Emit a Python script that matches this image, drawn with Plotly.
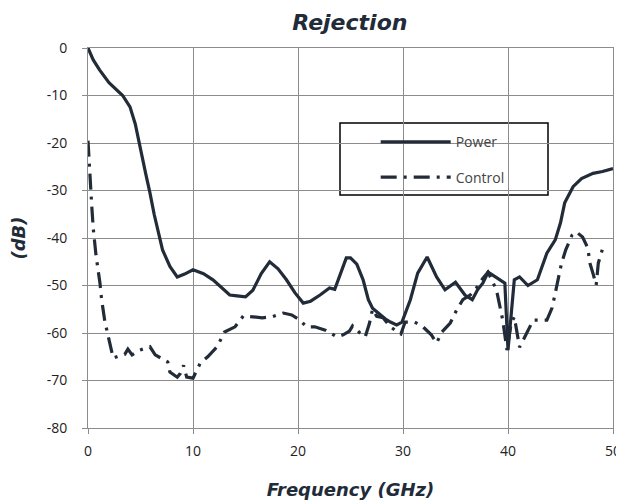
import plotly.graph_objects as go

power_x = [0, 0.5, 1.1, 2.0, 3.3, 4.0, 4.5, 5.0, 5.5, 5.9, 6.3, 7.1, 7.8, 8.5, 9.2, 10.0,
           11.0, 11.9, 12.8, 13.5, 14.2, 15.0, 15.7, 16.5, 17.3, 18.1, 18.9, 19.7, 20.5,
           21.2, 22.1, 23.0, 23.5, 23.9, 24.6, 25.0, 25.6, 26.2, 26.7, 27.1, 27.5, 27.8,
           28.3, 28.8, 29.4, 29.9, 30.7, 31.4, 32.3, 33.2, 34.0, 35.0, 35.9, 36.6, 37.1,
           37.6, 38.1, 38.8, 39.7, 40.0, 40.3, 40.6, 41.1, 41.9, 42.8, 43.7, 44.5, 45.0,
           45.4, 46.2, 47.0, 48.1, 49.0, 50.0]
power_y = [0, -2.5, -4.6, -7.3, -10, -12.4, -16, -21.5, -26.5, -30.5, -35, -42.5, -46, -48.2,
           -47.6, -46.7, -47.5, -48.8, -50.5, -52, -52.2, -52.4, -51, -47.5, -45, -46.5,
           -48.8, -51.5, -53.7, -53.3, -52, -50.5, -50.8, -48.5, -44.2, -44.2, -45.5, -48.8,
           -53, -54.8, -55.5, -56.2, -57, -57.7, -58.3, -57.7, -53, -47.4, -44, -48.2, -50.9,
           -49.3, -52, -53, -50.9, -49.5, -47.2, -48.2, -49.5, -63.6, -55.2, -48.8, -48.2,
           -50, -48.8, -43.2, -40.4, -36.8, -32.6, -29.2, -27.5, -26.4, -26, -25.4]

control_x = [0, 0.1, 0.2, 0.35, 0.5, 0.76, 1.14, 1.3, 1.6, 2.1, 2.4, 3.0, 3.5, 3.8, 4.2, 4.95,
             5.9, 6.4, 6.9, 7.6, 7.8, 8.5, 8.8, 9.1, 9.4, 10.0, 10.7, 11.4, 12.3, 13.0, 14.0,
             14.8, 15.7, 16.6, 17.5, 18.6, 19.4, 20.2, 20.8, 21.6, 22.6, 23.7, 24.3, 24.9,
             25.2, 25.9, 26.4, 26.8, 27.1, 27.5, 28.1, 28.8, 29.5, 29.8, 30.2, 31.1, 31.9,
             32.7, 33.2, 33.7, 34.5, 35.1, 35.7, 36.4, 37.0, 37.6, 38.1, 38.9, 39.5, 39.9,
             40.3, 40.6, 41.1, 41.8, 42.4, 43.7, 44.2, 44.5, 45.1, 45.5, 46.1, 46.5, 47.1,
             47.6, 47.8, 48.1, 48.4, 48.6, 49.0]
control_y = [-19.5, -24, -28, -33, -38, -43.6, -49.5, -53, -57.5, -62.1, -65.3, -64.8, -64.5,
             -63.4, -64.6, -63.6, -62.9, -64.6, -65.3, -66.1, -68.2, -69.3, -68.5, -66.8,
             -69.3, -69.5, -66.3, -65, -62.9, -59.8, -58.7, -56.4, -56.6, -56.8, -56.6,
             -55.8, -56.2, -57.3, -58.7, -58.7, -59.4, -60.8, -60.4, -59.6, -58.5, -60,
             -60.8, -58, -55, -56.5, -56.8, -58.7, -59.8, -60.2, -57.7, -57.7, -58.7, -60.4,
             -62.1, -59.8, -57.9, -55.2, -53, -52, -50.5, -48.5, -47.2, -50.9, -57.3, -63.6,
             -58, -56.6, -63, -59.8, -57.3, -57.3, -54.7, -51.6, -45.3, -42.5, -39.4, -38.7,
             -39.8, -42.1, -45.3, -47.5, -49.9, -45.3, -42.3]

x_ticks = [0, 10, 20, 30, 40, 50]
y_ticks = [0, -10, -20, -30, -40, -50, -60, -70, -80]
y_tick_labels = ["0", "-10", "-20", "-30", "-40", "-50", "-60", "-70", "-80"]

line_color = "#222b38"
grid_color = "#8c8c8c"
font_main = "Open Sans"

fig = go.Figure()
fig.add_trace(go.Scatter(x=power_x, y=power_y, mode="lines", name="Power",
                         line=dict(color=line_color, width=3.2), legendgroup="a"))
fig.add_trace(go.Scatter(x=control_x, y=control_y, mode="lines", name="Control",
                         line=dict(color=line_color, width=3.2, dash="16px,7px,3px,7px"),
                         legendgroup="b"))

fig.update_layout(
    width=616, height=493,
    margin=dict(l=80, r=11, t=40, b=73, autoexpand=False),
    paper_bgcolor="white", plot_bgcolor="white",
    title=dict(text="Rejection", x=0.555, xanchor="center", xref="container",
               y=0.970, yanchor="middle", yref="container", automargin=False,
               font=dict(family="DejaVu Sans", size=22, color="#222b38",
                         weight="bold", style="italic")),
    showlegend=True,
    legend=dict(x=0.548, y=0.794, xanchor="left", yanchor="top",
                bgcolor="rgba(0,0,0,0)", borderwidth=0,
                itemwidth=70, tracegroupgap=14, traceorder="grouped",
                font=dict(family=font_main, size=14, color="#444444")),
    shapes=[dict(type="rect", xref="paper", yref="paper",
                 x0=(340 - 88) / 525, x1=(548 - 88) / 525,
                 y0=(428 - 195) / 380, y1=(428 - 123) / 380,
                 line=dict(color="black", width=1.5), fillcolor="white", layer="below")],
    xaxis=dict(range=[0, 50], tickvals=x_ticks, showgrid=True, gridcolor=grid_color,
               gridwidth=1, zeroline=False, showline=True, linecolor=grid_color,
               linewidth=1, mirror=True, ticks="outside", ticklen=5, tickcolor=grid_color,
               ticklabelstandoff=5, automargin=False,
               tickfont=dict(family=font_main, size=14, color="#222222"),
               title=dict(text="Frequency (GHz)", standoff=24,
                          font=dict(family="DejaVu Sans", size=18, color="#222b38",
                                    weight="bold", style="italic"))),
    yaxis=dict(range=[-80, 0], tickvals=y_ticks, ticktext=y_tick_labels,
               showgrid=True, gridcolor=grid_color,
               gridwidth=1, zeroline=False, showline=True, linecolor=grid_color,
               linewidth=1, mirror=True, ticks="outside", ticklen=5, tickcolor=grid_color,
               ticklabelstandoff=12, automargin=False,
               tickfont=dict(family=font_main, size=14, color="#222222"),
               title=dict(text="(dB)", standoff=18,
                          font=dict(family="DejaVu Sans", size=18, color="#222b38",
                                    weight="bold", style="italic"))),
)

fig.write_html("out.html")
